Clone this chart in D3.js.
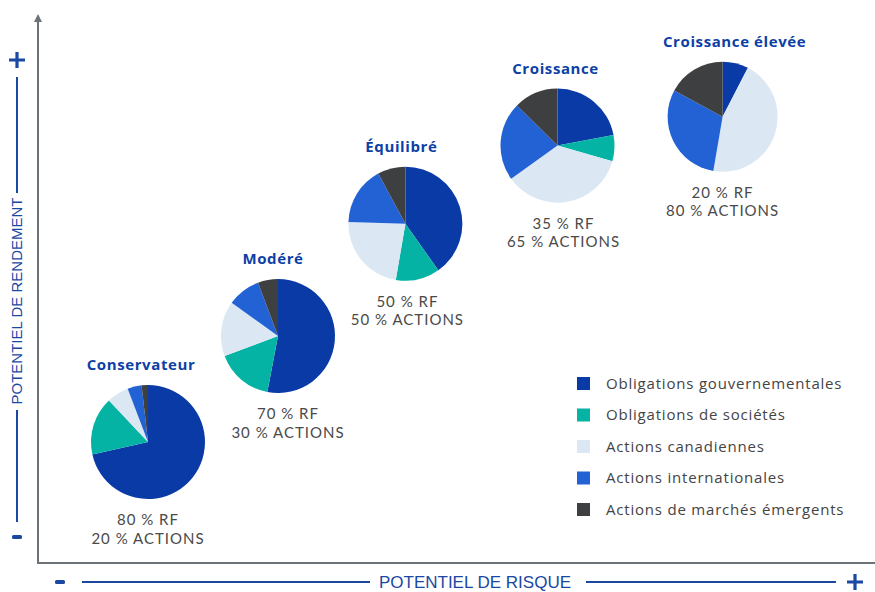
<!DOCTYPE html>
<html>
<head>
<meta charset="utf-8">
<script src="https://cdn.jsdelivr.net/npm/d3@7"></script>
<style>
  body { margin: 0; background: #fff; }
  svg { display: block; }
</style>
</head>
<body>
<div id="chart"></div>
<script>
// categories and colours
const categories = ["Obligations gouvernementales", "Obligations de sociétés", "Actions canadiennes", "Actions internationales", "Actions de marchés émergents"];
const catColors = ["#0a3aa6", "#05b3a5", "#dbe7f2", "#2262d5", "#3e3f41"];

// profiles
const profiles = ["Conservateur", "Modéré", "Équilibré", "Croissance", "Croissance élevée"];
const rfLabels = ["80 % RF", "70 % RF", "50 % RF", "35 % RF", "20 % RF"];
const actionLabels = ["20 % ACTIONS", "30 % ACTIONS", "50 % ACTIONS", "65 % ACTIONS", "80 % ACTIONS"];
// position on the abstract risk / return axes
const riskLevel = [1, 2, 2.98, 4.15, 5.42];
const returnLevel = [1, 1.99, 3.04, 3.77, 4.04];

// allocations (%), in category order
const allocConservateur = [71.5, 16.5, 6.2, 4, 1.8];
const allocModere = [53, 16.3, 15.6, 9.4, 5.7];
const allocEquilibre = [40.2, 12.5, 22.8, 16.6, 7.9];
const allocCroissance = [22, 7.4, 35.7, 22.3, 12.6];
const allocElevee = [7.6, 0, 45.1, 30.2, 17.1];
const allocations = [allocConservateur, allocModere, allocEquilibre, allocCroissance, allocElevee];

const width = 875, height = 592;
const blue = "#1a48a3";
const axisGrey = "#6c7378";

const svg = d3.select("#chart").append("svg")
    .attr("width", width)
    .attr("height", height);

const x = d3.scaleLinear().domain([1, 2]).range([148, 278]);
const y = d3.scaleLinear().domain([1, 2]).range([442, 335]);

// axes frame
svg.append("path")
    .attr("d", "M38,20 L38,563 L875,563")
    .attr("fill", "none")
    .attr("stroke", axisGrey)
    .attr("stroke-width", 2);
svg.append("path")
    .attr("d", "M34,22 L38,14 L42,22 Z")
    .attr("fill", axisGrey);

function plus(g, cx, cy) {
    g.append("path")
        .attr("d", `M${cx - 8},${cy} H${cx + 8} M${cx},${cy - 8} V${cy + 8}`)
        .attr("stroke-width", 3.2)
        .attr("fill", "none");
}

// y label
const yl = svg.append("g").attr("fill", blue).attr("stroke", blue);
plus(yl, 17, 60);
yl.append("line").attr("x1", 17).attr("x2", 17).attr("y1", 77).attr("y2", 193).attr("stroke-width", 2);
yl.append("line").attr("x1", 17).attr("x2", 17).attr("y1", 410).attr("y2", 522).attr("stroke-width", 2);
yl.append("rect").attr("x", 12).attr("y", 535).attr("width", 10).attr("height", 4).attr("rx", 1.5).attr("stroke", "none");
yl.append("text")
    .attr("transform", "translate(22,301) rotate(-90)")
    .attr("text-anchor", "middle")
    .attr("stroke", "none")
    .style("font", "15px 'Liberation Sans Narrow', 'Liberation Sans', sans-serif")
    .text("POTENTIEL DE RENDEMENT");

// x label
const xl = svg.append("g").attr("fill", blue).attr("stroke", blue);
xl.append("rect").attr("x", 55).attr("y", 580).attr("width", 10).attr("height", 4).attr("rx", 1.5).attr("stroke", "none");
xl.append("line").attr("x1", 82).attr("x2", 370).attr("y1", 582).attr("y2", 582).attr("stroke-width", 2);
xl.append("line").attr("x1", 586).attr("x2", 836).attr("y1", 582).attr("y2", 582).attr("stroke-width", 2);
plus(xl, 855, 582);
xl.append("text")
    .attr("x", 475).attr("y", 588)
    .attr("text-anchor", "middle")
    .attr("stroke", "none")
    .style("font", "17px 'Liberation Sans Narrow', 'Liberation Sans', sans-serif")
    .text("POTENTIEL DE RISQUE");

// pies
const pie = d3.pie().sort(null).value(d => d);
const arc = d3.arc().innerRadius(0);
const radii = [57, 57, 57, 57, 55];
const labelDx = [0, 10, 2, 6, 0];
const titleDx = [-7, -5, -4, -2, 12];

profiles.forEach((name, i) => {
    const g = svg.append("g")
        .attr("transform", `translate(${x(riskLevel[i])},${y(returnLevel[i])})`);
    g.selectAll("path")
        .data(pie(allocations[i]))
        .enter().append("path")
        .attr("d", d => arc.outerRadius(radii[i])(d))
        .attr("fill", (d, j) => catColors[j]);

    g.append("text")
        .attr("x", titleDx[i]).attr("y", -radii[i] - 15)
        .attr("text-anchor", "middle")
        .attr("fill", "#0d3fa6")
        .style("font", "bold 15px 'Open Sans', sans-serif")
        .style("letter-spacing", "0.6px")
        .text(name);

    [rfLabels[i], actionLabels[i]].forEach((t, k) => {
        g.append("text")
            .attr("x", labelDx[i]).attr("y", radii[i] + 26 + k * 18.5)
            .attr("text-anchor", "middle")
            .attr("fill", "#4a4a4a")
            .style("font", "15px Lato, sans-serif")
            .style("letter-spacing", "1px")
            .text(t);
    });
});

// legend
const legend = svg.append("g").attr("transform", "translate(577,383)");
const rows = legend.selectAll("g")
    .data(categories)
    .enter().append("g")
    .attr("transform", (d, i) => `translate(0,${i * 31.5})`);
rows.append("rect")
    .attr("x", 0).attr("y", -6)
    .attr("width", 13).attr("height", 13)
    .attr("fill", (d, i) => catColors[i]);
rows.append("text")
    .attr("x", 29).attr("y", 5.5)
    .attr("fill", "#444")
    .style("font", "15px 'Open Sans', sans-serif")
    .style("letter-spacing", "0.8px")
    .text(d => d);
</script>
</body>
</html>
